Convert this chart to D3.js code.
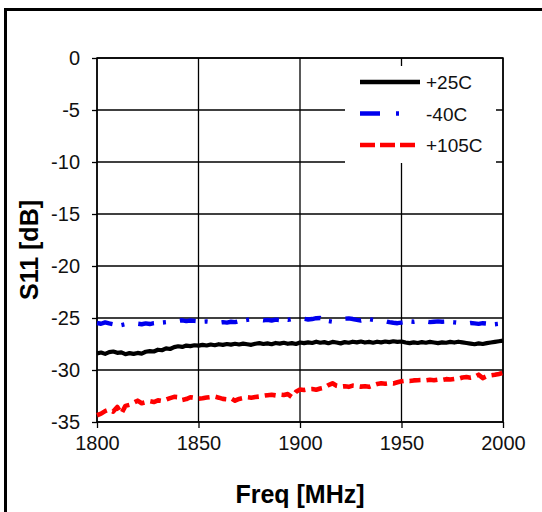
<!DOCTYPE html>
<html>
<head>
<meta charset="utf-8">
<script src="https://cdn.jsdelivr.net/npm/d3@7"></script>
<style>
  body { margin: 0; background: #fff; }
  svg { display: block; font-family: "Liberation Sans", Arial, sans-serif; }
</style>
</head>
<body>
<div id="chart"></div>
<script>
// frequency sweep, 2 MHz steps
let freq = d3.range(1800, 2000.1, 2);

// S11 readings in dB, one per freq point
let s11_25C = [
  -28.40, -28.32, -28.45, -28.28, -28.22, -28.35, -28.30, -28.48, -28.38, -28.45,
  -28.36, -28.42, -28.25, -28.18, -28.22, -28.05, -28.10, -27.92, -27.98, -27.80,
  -27.72, -27.78, -27.65, -27.70, -27.62, -27.66, -27.58, -27.64, -27.55, -27.62,
  -27.52, -27.58, -27.50, -27.56, -27.48, -27.55, -27.46, -27.52, -27.58, -27.48,
  -27.42, -27.50, -27.44, -27.52, -27.40, -27.46, -27.38, -27.48, -27.42, -27.50,
  -27.36, -27.42, -27.34, -27.40, -27.28, -27.38, -27.32, -27.42, -27.30, -27.36,
  -27.44, -27.32, -27.38, -27.28, -27.34, -27.26, -27.36, -27.30, -27.38, -27.28,
  -27.34, -27.26, -27.32, -27.24, -27.30, -27.26, -27.36, -27.42, -27.34, -27.40,
  -27.32, -27.38, -27.30, -27.36, -27.42, -27.34, -27.38, -27.30, -27.36, -27.28,
  -27.34, -27.40, -27.46, -27.52, -27.44, -27.50, -27.42, -27.36, -27.30, -27.24,
  -27.18
];

let s11_m40C = [
  -25.48, -25.55, -25.42, -25.52, -25.60, -25.66, -25.68, -25.60, -25.56, -25.62,
  -25.55, -25.60, -25.52, -25.58, -25.50, -25.46, -25.44, -25.40, -25.36, -25.32,
  -25.28, -25.22, -25.30, -25.24, -25.28, -25.32, -25.36, -25.34, -25.38, -25.42,
  -25.46, -25.40, -25.44, -25.36, -25.40, -25.30, -25.24, -25.18, -25.14, -25.12,
  -25.16, -25.22, -25.18, -25.24, -25.16, -25.20, -25.12, -25.18, -25.10, -25.06,
  -25.04, -25.08, -25.14, -25.10, -25.02, -25.00, -25.18, -25.30, -25.36, -25.22,
  -25.12, -25.06, -25.04, -25.10, -25.18, -25.24, -25.16, -25.12, -25.18, -25.14,
  -25.20, -25.30, -25.40, -25.46, -25.50, -25.44, -25.38, -25.32, -25.36, -25.30,
  -25.38, -25.34, -25.40, -25.36, -25.32, -25.36, -25.34, -25.38, -25.42, -25.46,
  -25.50, -25.54, -25.48, -25.52, -25.56, -25.50, -25.54, -25.58, -25.60, -25.56,
  -25.58
];

let s11_105C = [
  -34.35, -34.20, -33.95, -33.80, -34.00, -33.55, -34.20, -33.45, -33.35, -33.15,
  -32.95, -33.20, -33.10, -33.00, -33.08, -32.92, -32.98, -32.85, -32.70, -32.58,
  -32.62, -32.88, -32.80, -32.62, -32.68, -32.75, -32.72, -32.65, -32.60, -32.56,
  -32.66, -32.78, -32.82, -32.72, -32.95, -32.78, -32.70, -32.62, -32.66, -32.60,
  -32.55, -32.48, -32.42, -32.38, -32.44, -32.36, -32.40, -32.32, -32.60, -32.10,
  -31.88, -31.92, -31.84, -31.82, -31.90, -31.78, -31.70, -31.45, -31.28, -31.52,
  -31.60, -31.56, -31.62, -31.50, -31.54, -31.60, -31.56, -31.62, -31.48, -31.35,
  -31.28, -31.32, -31.26, -31.30, -31.18, -31.08, -31.02, -31.06, -31.00, -30.98,
  -30.96, -31.00, -30.94, -30.98, -30.92, -30.96, -30.88, -30.92, -30.86, -30.84,
  -30.72, -30.68, -30.74, -30.66, -30.45, -30.78, -30.60, -30.52, -30.46, -30.38,
  -30.28
];

let xTicks = [1800, 1850, 1900, 1950, 2000];
let yTicks = [0, -5, -10, -15, -20, -25, -30, -35];
let seriesNames = ["+25C", "-40C", "+105C"];

let width = 542, height = 512;
let margin = {top: 58, right: 39, bottom: 90, left: 97};
let plotW = width - margin.left - margin.right;
let plotH = height - margin.top - margin.bottom;

let svg = d3.select("#chart")
    .append("svg")
    .attr("width", width)
    .attr("height", height);

// outer frame (runs off the right and bottom edges)
svg.append("rect")
    .attr("x", 5.5)
    .attr("y", 9.5)
    .attr("width", 560)
    .attr("height", 560)
    .attr("fill", "none")
    .attr("stroke", "#000")
    .attr("stroke-width", 3);

let g = svg.append("g")
    .attr("transform", `translate(${margin.left}, ${margin.top})`);

let x = d3.scaleLinear().domain([1800, 2000]).range([0, plotW]);
let y = d3.scaleLinear().domain([-35, 0]).range([plotH, 0]);

// grid
g.append("g")
    .selectAll("line")
    .data(yTicks)
    .enter()
    .append("line")
    .attr("x1", 0).attr("x2", plotW)
    .attr("y1", function(d) { return y(d); })
    .attr("y2", function(d) { return y(d); })
    .attr("stroke", "#000")
    .attr("stroke-width", 1.3);

g.append("g")
    .selectAll("line")
    .data(xTicks)
    .enter()
    .append("line")
    .attr("y1", 0).attr("y2", plotH)
    .attr("x1", function(d) { return x(d); })
    .attr("x2", function(d) { return x(d); })
    .attr("stroke", "#000")
    .attr("stroke-width", 1.3);

// axes (plain hyphen for the minus sign, like the original)
let yAxis = g.append("g")
    .call(d3.axisLeft(y).tickValues(yTicks).tickSize(5).tickPadding(12)
        .tickFormat(function(d) { return String(d); }));
let xAxis = g.append("g")
    .attr("transform", `translate(0, ${plotH})`)
    .call(d3.axisBottom(x).tickValues(xTicks).tickSize(6).tickPadding(8)
        .tickFormat(function(d) { return String(d); }));

[yAxis, xAxis].forEach(function(a) {
    a.select(".domain").remove();
    a.selectAll("line").attr("stroke", "#000").attr("stroke-width", 1.3);
    a.selectAll("text")
        .attr("fill", "#111")
        .style("font-size", "20px")
        .style("font-family", "Liberation Sans, Arial, sans-serif");
});

// plot border
g.append("rect")
    .attr("width", plotW)
    .attr("height", plotH)
    .attr("fill", "none")
    .attr("stroke", "#000")
    .attr("stroke-width", 1.5);

// series
let line = d3.line()
    .x(function(d, i) { return x(freq[i]); })
    .y(function(d) { return y(d); });

let styles = [
    {data: s11_25C, color: "#000000", dash: null, w: 4.2},
    {data: s11_m40C, color: "#0000ee", dash: "16,9,3,14", w: 4.4},
    {data: s11_105C, color: "#ff0000", dash: "11,6", w: 4.6}
];

g.selectAll(".series")
    .data(styles)
    .enter()
    .append("path")
    .attr("class", "series")
    .attr("d", function(s) { return line(s.data); })
    .attr("fill", "none")
    .attr("stroke", function(s) { return s.color; })
    .attr("stroke-width", function(s) { return s.w; })
    .attr("stroke-dasharray", function(s) { return s.dash; })
    .attr("stroke-linejoin", "round");

// legend
let legend = svg.append("g");
legend.append("rect")
    .attr("x", 345).attr("y", 66)
    .attr("width", 151).attr("height", 97)
    .attr("fill", "#fff");

let legendDash = [null, "20,16,3,30", "15,5"];
seriesNames.forEach(function(name, i) {
    let ly = 82 + i * 31.5;
    legend.append("line")
        .attr("x1", 360).attr("x2", 420)
        .attr("y1", ly).attr("y2", ly)
        .attr("stroke", styles[i].color)
        .attr("stroke-width", 4.5)
        .attr("stroke-dasharray", legendDash[i]);
    legend.append("text")
        .attr("x", 426)
        .attr("y", ly + 7)
        .style("font-size", "19px")
        .attr("fill", "#111")
        .text(name);
});

// axis titles
svg.append("text")
    .attr("x", margin.left + plotW / 2)
    .attr("y", 503)
    .style("text-anchor", "middle")
    .style("font-size", "25px")
    .style("font-weight", "bold")
    .text("Freq [MHz]");

svg.append("text")
    .attr("transform", `translate(38, 250) rotate(-90)`)
    .style("text-anchor", "middle")
    .style("font-size", "25px")
    .style("font-weight", "bold")
    .text("S11 [dB]");
</script>
</body>
</html>
